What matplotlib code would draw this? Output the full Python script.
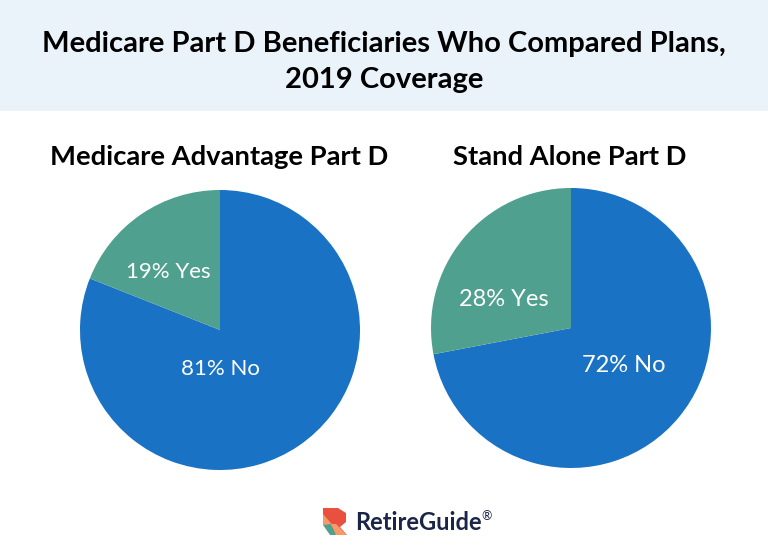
import matplotlib.pyplot as plt
from matplotlib.patches import Polygon, Rectangle

plt.rcParams['font.family'] = ['Lato', 'DejaVu Sans']

W = 768
H = 550

title = 'Medicare Part D Beneficiaries Who Compared Plans,\n2019 Coverage'
pie_titles = ['Medicare Advantage Part D', 'Stand Alone Part D']
labels = ['No', 'Yes']
left_values = [81, 19]
right_values = [72, 28]
colors = ['#1972C4', '#50A08F']

fig = plt.figure(figsize=(W / 100, H / 100), dpi=100)
fig.patch.set_facecolor('white')

# everything outside the pies is placed in pixels, y going down like the picture
bg = fig.add_axes([0, 0, 1, 1])
bg.set_xlim(0, W)
bg.set_ylim(H, 0)
bg.axis('off')
bg.add_patch(Rectangle((0, 0), W, 111, color='#EAF2FA', lw=0))

bg.text(384, 62, title, ha='center', va='center', fontsize=21, fontweight='bold',
        color='black', linespacing=1.52)
bg.text(219.5, 157, pie_titles[0], ha='center', va='center', fontsize=19.7, fontweight='bold', color='black')
bg.text(569.5, 157, pie_titles[1], ha='center', va='center', fontsize=19.7, fontweight='bold', color='black')


def draw_pie(cx, cy, r, values):
    ax = fig.add_axes([(cx - r) / W, 1 - (cy + r) / H, 2 * r / W, 2 * r / H])
    ax.pie(values, colors=colors, startangle=90, counterclock=False, radius=1,
           wedgeprops={'linewidth': 0})
    ax.set_xlim(-1, 1)
    ax.set_ylim(-1, 1)


draw_pie(220, 330, 140, left_values)
draw_pie(571, 328, 140, right_values)

# slice labels sit on top of the pies
top = fig.add_axes([0, 0, 1, 1])
top.set_xlim(0, W)
top.set_ylim(H, 0)
top.axis('off')
top.patch.set_alpha(0)
top.text(220, 369, f'{left_values[0]}% {labels[0]}', ha='center', va='center', fontsize=16, color='white')
top.text(168, 272, f'{left_values[1]}% {labels[1]}', ha='center', va='center', fontsize=16, color='white')
top.text(624, 366, f'{right_values[0]}% {labels[0]}', ha='center', va='center', fontsize=17, color='white')
top.text(504, 300, f'{right_values[1]}% {labels[1]}', ha='center', va='center', fontsize=17, color='white')

# logo
top.add_patch(Polygon([(323, 508), (338, 508), (346, 513), (346, 522), (340, 527), (347, 535),
                       (336, 535), (323, 521)], color='#E9503F', lw=0))
top.add_patch(Polygon([(323, 514), (336, 529), (327, 525), (323, 525)], color='#F79A6B', lw=0))
top.add_patch(Polygon([(323, 525), (331, 524), (336, 535), (330, 535)], color='#50A08F', lw=0))
top.add_patch(Polygon([(331, 524), (336, 524), (347, 535), (336, 535)], color='#F79A6B', lw=0))
top.text(355, 523, 'RetireGuide', ha='left', va='center', fontsize=17, fontweight='bold', color='#1B2547')
top.text(481, 516, '®', ha='left', va='center', fontsize=9, color='#1B2547')

fig.savefig('out.png', dpi=100)
